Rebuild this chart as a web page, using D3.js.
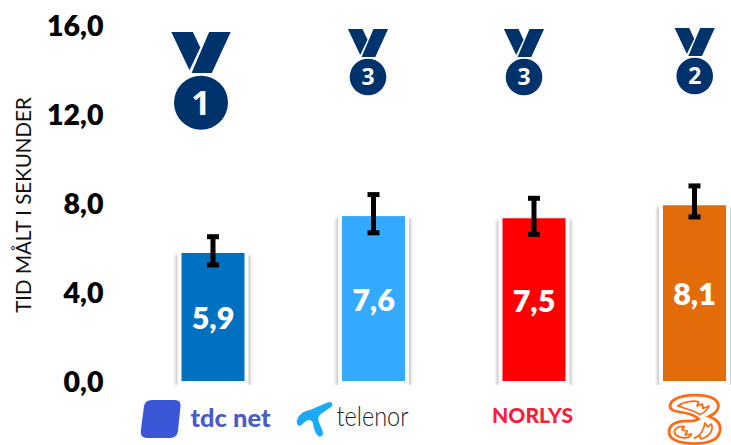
<!DOCTYPE html>
<html><head><meta charset="utf-8">
<script src="https://cdn.jsdelivr.net/npm/d3@7/dist/d3.min.js"></script>
<style>html,body{margin:0;padding:0;background:#fff}svg{display:block}text{font-family:Lato,Carlito,sans-serif}</style>
</head><body><svg id="c" width="731" height="445"></svg>
<script>
const categories = ["TDC Net", "Telenor", "Norlys", "3"];
const values = [5.9, 7.6, 7.5, 8.1];
const errLow = [5.35, 6.83, 6.76, 7.56];
const errHigh = [6.65, 8.59, 8.42, 8.99];
const ranks = [1, 3, 3, 2];
const tickValues = [0, 4, 8, 12, 16];
const barColors = ["#0070C0", "#33AAFF", "#FF0000", "#E36C0A"];

const svg = d3.select("#c");
const x = d3.scaleBand().domain(categories).range([132.75, 774.75]).paddingInner(0.6075).paddingOuter(0.30375);
const y = d3.scaleLinear().domain([0, 16]).range([381, 33.8]);
const yLabels = d3.scaleLinear().domain([0, 16]).range([382, 26]);
const cx = c => x(c) + x.bandwidth() / 2;

// tick labels
const axis = d3.axisLeft(yLabels).tickValues(tickValues).tickSize(0).tickPadding(0)
  .tickFormat(d => d3.format(".1f")(d).replace(".", ","));
const ag = svg.append("g").attr("transform", "translate(103.5,0)").call(axis);
ag.select(".domain").remove();
ag.selectAll("text").attr("font-size", 28.5).attr("font-weight", 800).attr("fill", "#000")
  .style("font-family", "Lato,sans-serif").attr("dy", "0.34em");

svg.append("text").attr("transform", "translate(31,205) rotate(-90)").attr("text-anchor", "middle")
  .attr("font-size", 20.5).attr("fill", "#111").text("TID MÅLT I SEKUNDER");

// bars
const defs = svg.append("defs");
defs.append("filter").attr("id", "soft").attr("x", "-30%").attr("y", "-30%").attr("width", "160%").attr("height", "160%")
  .append("feGaussianBlur").attr("stdDeviation", 1.6);
const g = svg.selectAll(".bar").data(categories).join("g").attr("class", "bar");
g.append("rect").attr("x", c => x(c) - 6).attr("width", x.bandwidth() + 12)
  .attr("y", (c, i) => y(values[i]) + 2).attr("height", (c, i) => y(0) - y(values[i]) + 3)
  .attr("fill", "#c8c8c8").attr("filter", "url(#soft)");
g.append("rect").attr("x", c => x(c) - 4).attr("width", x.bandwidth() + 8)
  .attr("y", (c, i) => y(values[i]) - 4).attr("height", (c, i) => y(0) - y(values[i]) + 8)
  .attr("fill", "#fff");
svg.append("rect").attr("x", 120).attr("y", 385).attr("width", 611).attr("height", 10).attr("fill", "#fff");
g.append("rect").attr("x", c => x(c)).attr("width", x.bandwidth())
  .attr("y", (c, i) => y(values[i])).attr("height", (c, i) => y(0) - y(values[i]))
  .attr("fill", (c, i) => barColors[i]);
g.append("text").attr("x", cx).attr("y", (c, i) => y(values[i] / 2) + 1).attr("dy", "0.36em")
  .attr("text-anchor", "middle").attr("font-size", 30.5).attr("font-weight", 800).attr("fill", "#fff")
  .text((c, i) => d3.format(".1f")(values[i]).replace(".", ","));

// error bars
const eb = g.append("g").attr("stroke", "#000").attr("fill", "none");
eb.append("line").attr("x1", cx).attr("x2", cx).attr("y1", (c, i) => y(errLow[i])).attr("y2", (c, i) => y(errHigh[i])).attr("stroke-width", 5);
eb.append("line").attr("x1", c => cx(c) - 6).attr("x2", c => cx(c) + 6).attr("y1", (c, i) => y(errLow[i])).attr("y2", (c, i) => y(errLow[i])).attr("stroke-width", 5);
eb.append("line").attr("x1", c => cx(c) - 6).attr("x2", c => cx(c) + 6).attr("y1", (c, i) => y(errHigh[i])).attr("y2", (c, i) => y(errHigh[i])).attr("stroke-width", 5);

// medals
const medalSpots = [[201, 102.7, 27], [368, 77, 18.3], [524, 77, 18.3], [694.7, 76, 18.3]];
const navy = "#00326B";
const medal = svg.selectAll(".medal").data(ranks).join("g").attr("class", "medal")
  .attr("transform", (r, i) => `translate(${medalSpots[i][0]},${medalSpots[i][1]})`);
medal.append("circle").attr("r", (r, i) => medalSpots[i][2]).attr("fill", navy);
const strap = pts => (r, i) => pts.map(p => (p[0] * medalSpots[i][2]).toFixed(1) + "," + (p[1] * medalSpots[i][2]).toFixed(1)).join(" ");
medal.append("polygon").attr("fill", navy).attr("points", strap([[-1.1, -2.62], [-0.3, -2.62], [-0.025, -2.04], [-0.425, -1.2]]));
medal.append("polygon").attr("fill", navy).attr("points", strap([[0.3, -2.62], [1.1, -2.62], [0.4, -1.1], [-0.35, -1.1]]));
medal.append("text").attr("text-anchor", "middle").attr("dy", "0.36em").attr("fill", "#fff").attr("font-weight", 700)
  .style("font-family", "'Open Sans',sans-serif").attr("font-size", (r, i) => medalSpots[i][2] * 1.25).text(r => r);

// logos
const logos = svg.append("g");
logos.append("path").attr("fill", "#3A57D8")
  .attr("d", "M152,400 L175,400 Q181,400 180.5,406 L178,431 Q177,438 170,438 L147,438 Q140,438 140.8,431 L144,406 Q145,400 152,400Z");
logos.append("text").attr("x", 190.5).attr("y", 427).attr("font-size", 25).attr("font-weight", 900)
  .attr("fill", "#4A5CC8").attr("textLength", 80).attr("lengthAdjust", "spacingAndGlyphs").text("tdc net");
logos.append("path").attr("fill", "#19AAF8")
  .attr("d", "M297,420 C299,414 304,411 310,410 C316,408 324,403 330,402 C333,403 333,406 331,407 C327,410 323,412 321,414 C318,416 318,419 319,422 C320,426 323,430 323,434 C322,437 319,437 318,436 C315,433 314,428 313,424 C313,421 311,420 308,420 C305,421 302,425 300,426 C298,426 296,423 297,420Z");
logos.append("text").attr("x", 336.5).attr("y", 426).attr("font-size", 27.5).attr("font-weight", 300)
  .attr("fill", "#222").attr("textLength", 72).attr("lengthAdjust", "spacingAndGlyphs").text("telenor");
logos.append("text").attr("x", 492).attr("y", 423).attr("font-size", 20).attr("font-weight", 900)
  .attr("fill", "#F5213A").attr("textLength", 81).attr("lengthAdjust", "spacingAndGlyphs").text("NORLYS");
const three = logos.append("g").attr("transform", "translate(668.5,394) scale(.52,.5)").attr("fill", "none").attr("stroke", "#FF6A13");
three.append("path").attr("stroke-width", 5.5)
  .attr("d", "M3,24 C3,12 22,2 50,2 C78,2 95,8 96,24 C96,36 84,42 78,45 C92,50 101,60 99,74 C96,92 76,99 50,99 C22,99 1,92 1,76 C1,62 14,54 32,54 C44,54 52,55 58,50 C50,42 36,38 22,36 C10,34 3,32 3,24Z");
three.append("path").attr("stroke-width", 3.5).attr("stroke-linejoin", "round")
  .attr("d", "M18,24 C30,14 50,13 58,16 L55,24 L65,20 L66,29 L78,24 C73,35 66,39 60,41 C54,35 34,30 18,24Z M14,82 C8,74 14,64 30,65 L26,72 L36,74 L32,82 L44,80 C42,88 26,92 14,82Z M50,88 C62,83 68,72 70,58 L76,66 L82,60 C88,72 78,86 62,90 L60,83Z");
</script></body></html>
